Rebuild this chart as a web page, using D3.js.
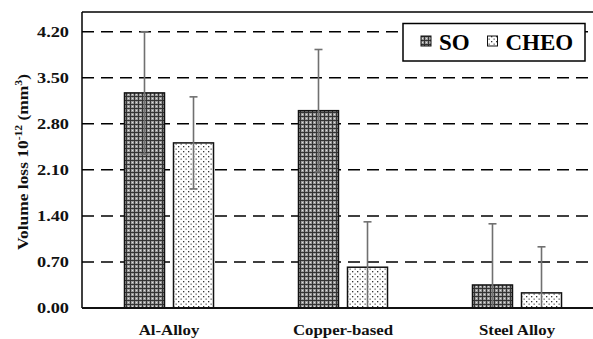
<!DOCTYPE html>
<html>
<head>
<meta charset="utf-8">
<script src="https://cdn.jsdelivr.net/npm/d3@7"></script>
</head>
<body style="margin:0;padding:0;background:#fff">
<svg id="chart" width="593" height="339" font-family="Liberation Serif" font-weight="bold" style="display:block"></svg>
<script>
// Volume loss per alloy, with standard deviation
const categories = ["Al-Alloy", "Copper-based", "Steel Alloy"];
const seriesNames = ["SO", "CHEO"];
const soValues = [3.27, 3.00, 0.35];
const cheoValues = [2.51, 0.62, 0.23];
const soErrors = [0.93, 0.93, 0.93];
const cheoErrors = [0.70, 0.69, 0.70];
const yTicks = [0, 0.70, 1.40, 2.10, 2.80, 3.50, 4.20];

const FONT = "Liberation Serif";

const rows = categories.map((c, i) => ({
  category: c,
  bars: [
    { series: "SO", value: soValues[i], err: soErrors[i] },
    { series: "CHEO", value: cheoValues[i], err: cheoErrors[i] }
  ]
}));

const svg = d3.select("#chart");
const margin = { top: 12, left: 82 };
const plotW = 522, plotH = 296;

// Widen glyphs horizontally by a factor (the axis type is set wide)
function widen(sel, k) {
  sel.each(function () {
    const w = this.getComputedTextLength();
    d3.select(this).attr("textLength", w * k).attr("lengthAdjust", "spacingAndGlyphs");
  });
}

// Fill patterns for the two series
const defs = svg.append("defs");
const pSO = defs.append("pattern").attr("id", "pat-so")
  .attr("patternUnits", "userSpaceOnUse").attr("width", 4).attr("height", 4);
pSO.append("rect").attr("width", 4).attr("height", 4).attr("fill", "#999");
pSO.append("rect").attr("width", 4).attr("height", 1).attr("fill", "#333");
pSO.append("rect").attr("width", 1).attr("height", 4).attr("fill", "#333");
pSO.append("rect").attr("x", 2).attr("y", 2).attr("width", 1).attr("height", 1).attr("fill", "#e0e0e0");

const pCH = defs.append("pattern").attr("id", "pat-cheo")
  .attr("patternUnits", "userSpaceOnUse").attr("width", 5).attr("height", 5);
pCH.append("rect").attr("width", 5).attr("height", 5).attr("fill", "#fff");
pCH.append("rect").attr("x", 1).attr("y", 1).attr("width", 1.3).attr("height", 1.3).attr("fill", "#333");
pCH.append("rect").attr("x", 3.5).attr("y", 3.5).attr("width", 1.3).attr("height", 1.3).attr("fill", "#666");

const fills = { SO: "url(#pat-so)", CHEO: "url(#pat-cheo)" };

const x0 = d3.scaleBand().domain(categories).range([margin.left, margin.left + plotW]).padding(0);
const x1 = d3.scaleBand().domain(seriesNames).range([0, x0.bandwidth()])
  .paddingInner(0.184).paddingOuter(0.867);
const y = d3.scaleLinear().domain([0, 4.5]).range([margin.top + plotH, margin.top]);

// Dashed gridlines
svg.append("g").selectAll("line").data(yTicks.filter(t => t > 0)).join("line")
  .attr("x1", margin.left).attr("x2", margin.left + plotW)
  .attr("y1", d => y(d)).attr("y2", d => y(d))
  .attr("stroke", "#000").attr("stroke-width", 1.5)
  .attr("stroke-dasharray", "12,7");

// Bars
const groups = svg.append("g").selectAll("g").data(rows).join("g")
  .attr("transform", d => `translate(${x0(d.category)},0)`);

groups.selectAll("rect").data(d => d.bars).join("rect")
  .attr("x", d => x1(d.series))
  .attr("y", d => y(d.value))
  .attr("width", x1.bandwidth())
  .attr("height", d => y(0) - y(d.value))
  .attr("fill", d => fills[d.series])
  .attr("stroke", "#111").attr("stroke-width", 1.5);

// Error bars
const eb = groups.selectAll("g.err").data(d => d.bars).join("g").attr("class", "err")
  .attr("stroke", "#707070").attr("stroke-width", 1.6);
const cx = d => x1(d.series) + x1.bandwidth() / 2;
eb.append("line")
  .attr("x1", cx).attr("x2", cx)
  .attr("y1", d => y(d.value + d.err))
  .attr("y2", d => y(Math.max(0, d.value - d.err)));
eb.append("line")
  .attr("x1", d => cx(d) - 4).attr("x2", d => cx(d) + 4)
  .attr("y1", d => y(d.value + d.err)).attr("y2", d => y(d.value + d.err));
eb.filter(d => d.value - d.err > 0).append("line")
  .attr("x1", d => cx(d) - 4).attr("x2", d => cx(d) + 4)
  .attr("y1", d => y(d.value - d.err)).attr("y2", d => y(d.value - d.err));

// Frame: left, top and bottom edges
svg.append("line").attr("x1", margin.left).attr("x2", margin.left + plotW)
  .attr("y1", margin.top).attr("y2", margin.top).attr("stroke", "#000").attr("stroke-width", 1.5);
svg.append("line").attr("x1", margin.left).attr("x2", margin.left)
  .attr("y1", margin.top).attr("y2", y(0)).attr("stroke", "#000").attr("stroke-width", 1.5);
svg.append("line").attr("x1", margin.left).attr("x2", margin.left + plotW)
  .attr("y1", y(0)).attr("y2", y(0)).attr("stroke", "#111").attr("stroke-width", 2);

// Axes
const yAxis = svg.append("g").attr("transform", `translate(${margin.left},0)`)
  .call(d3.axisLeft(y).tickValues(yTicks).tickFormat(d3.format(".2f")).tickSize(0).tickPadding(13));
yAxis.attr("font-family", FONT).attr("font-size", 15).attr("font-weight", "bold");
yAxis.select(".domain").remove();
yAxis.selectAll("text").attr("fill", "#111").call(widen, 1.22);

const xAxis = svg.append("g").attr("transform", `translate(0,${y(0)})`)
  .call(d3.axisBottom(x0).tickSize(0).tickPadding(16));
xAxis.attr("font-family", FONT).attr("font-size", 15).attr("font-weight", "bold");
xAxis.select(".domain").remove();
xAxis.selectAll("text").attr("fill", "#111").call(widen, 1.12);

// Y axis title with superscripts
const yt = svg.append("text")
  .attr("transform", `translate(28,${margin.top + plotH / 2 + 2}) rotate(-90)`)
  .attr("text-anchor", "middle").attr("font-family", FONT).attr("font-weight", "bold")
  .attr("font-size", 15).attr("fill", "#111");
yt.append("tspan").text("Volume loss 10");
yt.append("tspan").text("-12").attr("font-size", 10).attr("dy", -6);
yt.append("tspan").text(" (mm").attr("dy", 6);
yt.append("tspan").text("3").attr("font-size", 10).attr("dy", -6);
yt.append("tspan").text(")").attr("dy", 6);
yt.attr("textLength", 176).attr("lengthAdjust", "spacingAndGlyphs");

// Legend
const lg = svg.append("g");
lg.append("rect").attr("x", 403).attr("y", 23.5).attr("width", 182).attr("height", 37.5)
  .attr("fill", "#fff").attr("stroke", "#000").attr("stroke-width", 1.5);
const legendX = { SO: 421, CHEO: 487.5 };
seriesNames.forEach(s => {
  lg.append("rect").attr("x", legendX[s]).attr("y", 36).attr("width", 10).attr("height", 10)
    .attr("fill", fills[s]).attr("stroke", "#111").attr("stroke-width", 1);
  lg.append("text").attr("x", legendX[s] + 18).attr("y", 49.5)
    .attr("font-family", FONT).attr("font-weight", "bold")
    .attr("font-size", 23).attr("fill", "#000").text(s);
});
</script>
</body>
</html>
